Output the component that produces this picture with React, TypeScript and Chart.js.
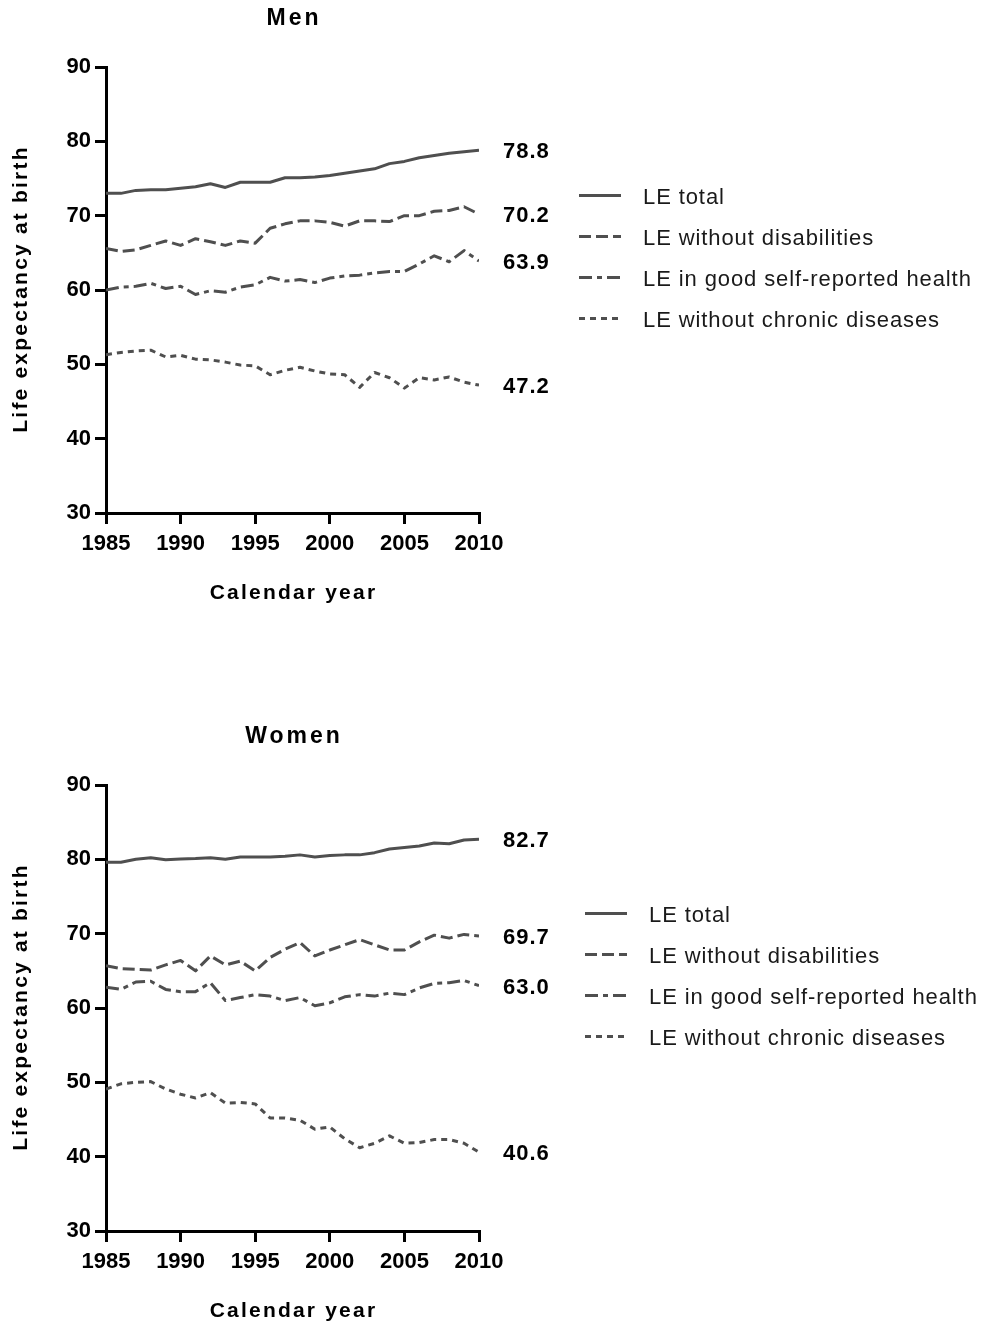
import React, { useEffect, useRef } from "react";
import { Chart, registerables } from "chart.js";

Chart.register(...registerables);

const years = [1985, 1986, 1987, 1988, 1989, 1990, 1991, 1992, 1993, 1994, 1995, 1996, 1997, 1998, 1999, 2000, 2001, 2002, 2003, 2004, 2005, 2006, 2007, 2008, 2009, 2010];

const menTotal = [73.0, 73.0, 73.4, 73.5, 73.5, 73.7, 73.9, 74.3, 73.8, 74.5, 74.5, 74.5, 75.1, 75.1, 75.2, 75.4, 75.7, 76.0, 76.3, 77.0, 77.3, 77.8, 78.1, 78.4, 78.6, 78.8];
const menNoDisab = [65.6, 65.2, 65.4, 66.0, 66.6, 66.0, 66.9, 66.5, 66.0, 66.6, 66.3, 68.3, 68.9, 69.3, 69.3, 69.1, 68.6, 69.3, 69.3, 69.2, 70.0, 70.0, 70.6, 70.7, 71.2, 70.2];
const menGoodHealth = [60.0, 60.4, 60.5, 60.9, 60.2, 60.5, 59.4, 59.9, 59.7, 60.4, 60.7, 61.7, 61.2, 61.4, 61.0, 61.6, 61.9, 62.0, 62.3, 62.5, 62.5, 63.5, 64.6, 63.8, 65.3, 63.9];
const menNoChronic = [51.3, 51.6, 51.8, 51.9, 51.0, 51.2, 50.7, 50.6, 50.3, 49.9, 49.8, 48.6, 49.2, 49.6, 49.1, 48.7, 48.6, 46.9, 48.9, 48.2, 46.8, 48.2, 47.9, 48.3, 47.6, 47.2];

const womenTotal = [79.6, 79.6, 80.0, 80.2, 79.95, 80.05, 80.1, 80.2, 80.0, 80.3, 80.3, 80.3, 80.4, 80.6, 80.3, 80.5, 80.6, 80.6, 80.9, 81.4, 81.6, 81.8, 82.2, 82.1, 82.6, 82.7];
const womenNoDisab = [65.7, 65.3, 65.2, 65.1, 65.8, 66.4, 65.0, 67.0, 65.8, 66.3, 65.0, 66.8, 67.9, 68.8, 67.0, 67.8, 68.5, 69.2, 68.5, 67.8, 67.8, 68.9, 69.8, 69.4, 69.9, 69.7];
const womenGoodHealth = [62.8, 62.5, 63.5, 63.6, 62.5, 62.2, 62.2, 63.4, 61.0, 61.4, 61.8, 61.6, 61.0, 61.4, 60.3, 60.7, 61.5, 61.8, 61.6, 62.0, 61.8, 62.7, 63.3, 63.4, 63.7, 63.0];
const womenNoChronic = [49.1, 49.8, 50.0, 50.1, 49.1, 48.4, 47.9, 48.6, 47.2, 47.3, 47.1, 45.2, 45.2, 44.9, 43.7, 44.0, 42.4, 41.2, 41.8, 42.8, 41.8, 41.9, 42.3, 42.3, 41.8, 40.6];

const seriesNames = ["LE total", "LE without disabilities", "LE in good self-reported health", "LE without chronic diseases"];
const menEndLabels = ["78.8", "70.2", "63.9", "47.2"];
const womenEndLabels = ["82.7", "69.7", "63.0", "40.6"];
const xTickValues = [1985, 1990, 1995, 2000, 2005, 2010];
const yTickValues = [30, 40, 50, 60, 70, 80, 90];

const LINE_COLOR = "#4f4f4f";
const DASHES = [[], [12, 5], [13, 5, 5, 5], [6, 5]];
const FONT = '"Liberation Sans", Arial, sans-serif';

function overlayPlugin(title: string, endLabels: string[], legendX: number) {
  return {
    id: "overlay",
    afterDraw(chart: any) {
      const { ctx, chartArea, scales } = chart;
      const ys = scales.y;
      const cx = (chartArea.left + chartArea.right) / 2;
      const cy = (chartArea.top + chartArea.bottom) / 2;
      ctx.save();
      ctx.fillStyle = "#000";
      ctx.textAlign = "center";
      ctx.textBaseline = "middle";
      // title
      ctx.font = `bold 23px ${FONT}`;
      ctx.letterSpacing = "3px";
      ctx.fillText(title, cx + 1.5, chartArea.top - 48.5);
      // x title
      ctx.font = `bold 21px ${FONT}`;
      ctx.letterSpacing = "2.2px";
      ctx.fillText("Calendar year", cx + 1, chartArea.bottom + 80);
      // y title
      ctx.save();
      ctx.translate(21, cy);
      ctx.rotate(-Math.PI / 2);
      ctx.fillText("Life expectancy at birth", 1, 0);
      ctx.restore();
      // end labels
      ctx.font = `bold 22px ${FONT}`;
      ctx.letterSpacing = "1px";
      ctx.textAlign = "left";
      endLabels.forEach((lab) => {
        ctx.fillText(lab, chartArea.right + 24, ys.getPixelForValue(parseFloat(lab)) + 2);
      });
      // legend
      ctx.font = `22px ${FONT}`;
      ctx.letterSpacing = "0.9px";
      ctx.fillStyle = "#1a1a1a";
      seriesNames.forEach((name, i) => {
        const yy = chartArea.top + 128.5 + i * 41;
        ctx.save();
        ctx.strokeStyle = LINE_COLOR;
        ctx.lineWidth = 3;
        ctx.setLineDash(DASHES[i]);
        ctx.beginPath();
        ctx.moveTo(legendX, yy);
        ctx.lineTo(legendX + 42, yy);
        ctx.stroke();
        ctx.restore();
        ctx.fillText(name, legendX + 64, yy + 2);
      });
      ctx.restore();
    },
  };
}

function makeConfig(series: number[][], title: string, endLabels: string[], legendX: number, height: number) {
  const tickFont = { family: FONT, size: 22, weight: "bold" as const };
  return {
    type: "line" as const,
    data: {
      datasets: series.map((vals, i) => ({
        label: seriesNames[i],
        data: years.map((yr, j) => ({ x: yr, y: vals[j] })),
        borderColor: LINE_COLOR,
        borderWidth: 3,
        borderDash: DASHES[i],
        borderCapStyle: "butt" as const,
        borderJoinStyle: "round" as const,
        pointRadius: 0,
        tension: 0,
        fill: false,
      })),
    },
    options: {
      responsive: false,
      animation: false as const,
      layout: { padding: { left: 0, top: 67, right: 503, bottom: height - 513 - 40 } },
      plugins: {
        legend: { display: false },
        title: { display: false },
        tooltip: { enabled: false },
      },
      scales: {
        x: {
          type: "linear" as const,
          min: 1985,
          max: 2010,
          afterBuildTicks(s: any) {
            s.ticks = xTickValues.map((v) => ({ value: v }));
          },
          afterFit(s: any) {
            s.height = 40;
            s.paddingLeft = 0;
            s.paddingRight = 0;
          },
          ticks: {
            callback: (v: any) => String(v),
            font: tickFont,
            color: "#000",
            padding: 7,
            maxRotation: 0,
            autoSkip: false,
          },
          grid: { drawOnChartArea: false, drawTicks: true, tickLength: 11, color: "#000", lineWidth: 3 },
          border: { display: true, color: "#000", width: 3 },
        },
        y: {
          type: "linear" as const,
          min: 30,
          max: 90,
          afterBuildTicks(s: any) {
            s.ticks = yTickValues.map((v) => ({ value: v }));
          },
          afterFit(s: any) {
            s.width = 106;
            s.paddingTop = 0;
            s.paddingBottom = 0;
          },
          ticks: {
            font: tickFont,
            color: "#000",
            padding: 4,
          },
          grid: { drawOnChartArea: false, drawTicks: true, tickLength: 11, color: "#000", lineWidth: 3 },
          border: { display: true, color: "#000", width: 3 },
        },
      },
    },
    plugins: [overlayPlugin(title, endLabels, legendX)],
  };
}

function Panel(props: { series: number[][]; title: string; endLabels: string[]; legendX: number; height: number }) {
  const ref = useRef<HTMLCanvasElement | null>(null);
  useEffect(() => {
    if (!ref.current) return;
    const chart = new Chart(ref.current, makeConfig(props.series, props.title, props.endLabels, props.legendX, props.height) as any);
    return () => chart.destroy();
  }, []);
  return <canvas ref={ref} width={982} height={props.height} style={{ display: "block", width: 982, height: props.height }} />;
}

export default function App() {
  return (
    <div style={{ position: "absolute", left: 0, top: 0, width: 982, height: 1324, background: "#fff" }}>
      <Panel series={[menTotal, menNoDisab, menGoodHealth, menNoChronic]} title="Men" endLabels={menEndLabels} legendX={579} height={718} />
      <Panel series={[womenTotal, womenNoDisab, womenGoodHealth, womenNoChronic]} title="Women" endLabels={womenEndLabels} legendX={585} height={606} />
    </div>
  );
}
